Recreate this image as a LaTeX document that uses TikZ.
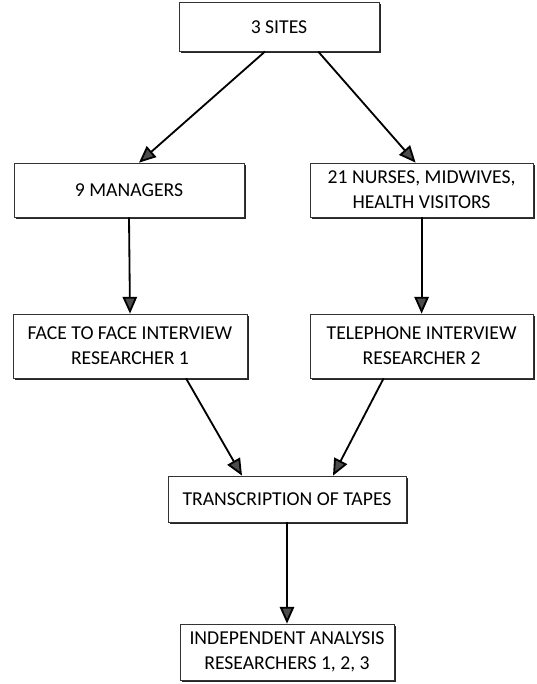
\documentclass[tikz,border=0pt]{standalone}
\usepackage{fontspec}
\setmainfont{Carlito}
\usetikzlibrary{arrows.meta,shadows}

\tikzset{
  box/.style={draw=black!80, line width=0.5pt, fill=white, align=center,
    inner sep=0pt, font=\fontsize{14}{18}\selectfont,
    drop shadow={shadow xshift=1.3pt, shadow yshift=-1.3pt, fill=black!85, opacity=1}},
  flow/.style={line width=1.3pt, -{Triangle[length=0.42cm, width=0.36cm, fill=black!70]}}
}

\begin{document}
\begin{tikzpicture}
    \useasboundingbox (0,0) rectangle (13.4,-17.1);

    \node[box, minimum width=5cm, minimum height=1.22cm] (sites) at (6.975,-0.67) {3 SITES};

    \node[box, minimum width=5.75cm, minimum height=1.35cm] (managers) at (3.225,-4.75) {9 MANAGERS};
    \node[box, minimum width=5.575cm, minimum height=1.35cm] (nurses) at (10.54,-4.75)
      {21 NURSES, MIDWIVES,\\HEALTH VISITORS};

    \node[box, minimum width=5.85cm, minimum height=1.6cm] (face) at (3.25,-8.65)
      {FACE TO FACE INTERVIEW\\RESEARCHER 1};
    \node[box, minimum width=5.575cm, minimum height=1.6cm] (phone) at (10.54,-8.65)
      {TELEPHONE INTERVIEW\\RESEARCHER 2};

    \node[box, minimum width=5.95cm, minimum height=1.15cm] (tapes) at (7.175,-12.475)
      {TRANSCRIPTION OF TAPES};

    \node[box, minimum width=5.35cm, minimum height=1.4cm] (analysis) at (7.175,-16.3)
      {INDEPENDENT ANALYSIS\\RESEARCHERS 1, 2, 3};

    \draw[flow] ([xshift=-0.35cm]sites.south) -- ([xshift=0.25cm]managers.north);
    \draw[flow] ([xshift=0.98cm]sites.south) -- ([xshift=-0.15cm]nurses.north);

    \draw[flow] (managers.south) -- (face.north);
    \draw[flow] (nurses.south) -- (phone.north);

    \draw[flow] ([xshift=1.4cm]face.south) -- ([xshift=-1.125cm]tapes.north);
    \draw[flow] ([xshift=-0.95cm]phone.south) -- ([xshift=1.15cm]tapes.north);

    \draw[flow] (tapes.south) -- (analysis.north);
\end{tikzpicture}
\end{document}
